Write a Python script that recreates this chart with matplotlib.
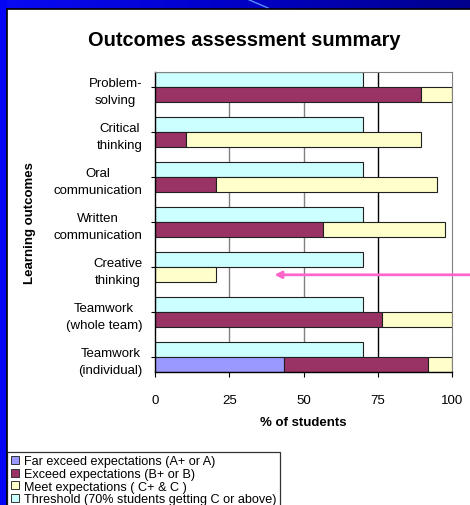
import numpy as np
import matplotlib
matplotlib.use("Agg")
import matplotlib.pyplot as plt
from matplotlib.lines import Line2D
from matplotlib.patches import Rectangle

plt.rcParams['font.family'] = ['Liberation Sans', 'DejaVu Sans']

# outcome categories, top to bottom
outcomes = ['Problem-\nsolving', 'Critical\nthinking', 'Oral\ncommunication',
            'Written\ncommunication', 'Creative\nthinking', 'Teamwork\n(whole team)',
            'Teamwork\n(individual)']

# % of students in each grade band
far_exceed = [0, 0, 0, 0, 0, 0, 43.5]
exceed = [89.5, 10.5, 20.5, 56.5, 0, 76.5, 48.5]
meet = [10.5, 79, 74.5, 41, 20.5, 23.5, 8]
threshold = [70, 70, 70, 70, 70, 70, 70]

x_ticks = [0, 25, 50, 75, 100]

labels = ['Far exceed expectations (A+ or A)', 'Exceed expectations (B+ or B)',
          'Meet expectations ( C+ & C )', 'Threshold (70% students getting C or above)']
colors = ['#9999FF', '#993366', '#FFFFCC', '#CCFFFF']

W, H = 470, 506
fig = plt.figure(figsize=(W / 100, H / 100), dpi=100)
fig.patch.set_facecolor('white')

# slide frame: blue bands on top and left
bg = fig.add_axes([0, 0, 1, 1], zorder=-10)
bg.set_xlim(0, W)
bg.set_ylim(H, 0)
bg.axis('off')
grad = np.linspace(0, 1, 256).reshape(1, -1)
cmap = matplotlib.colors.LinearSegmentedColormap.from_list('band', ['#0A0AF5', '#0000C8', '#00008C'])
bg.imshow(grad, cmap=cmap, extent=[0, W, 9.5, 0], aspect='auto')
bg.plot([247, 268], [0, 9], color='#5A8CFF', lw=1)
bg.add_patch(Rectangle((0, 0), 6.5, H, color='#0505F5', lw=0))
bg.plot([6.5, W], [9.8, 9.8], color='black', lw=1.2)
bg.plot([6.8, 6.8], [9.5, H], color='black', lw=1.2)

ax = fig.add_axes([155 / W, 1 - 373.3 / H, 297 / W, 300 / H])

n = len(outcomes)
pos = np.arange(n) * 3
y_thr = pos + 0.5
y_stk = pos + 1.5

for v in [25, 50]:
    ax.axvline(v, color='#808080', lw=1, zorder=0)
ax.axvline(75, color='black', lw=1, zorder=0)

ax.barh(y_thr, threshold, height=1, color=colors[3], edgecolor='#202020', lw=0.8, zorder=2)
left = np.zeros(n)
for vals, c in zip([far_exceed, exceed, meet], colors[:3]):
    vals = np.array(vals)
    ax.barh(y_stk, vals, height=1, left=left, color=c, edgecolor='#202020', lw=0.8, zorder=2)
    left += vals

ax.set_xlim(0, 100)
ax.set_ylim(20, 0)
ax.set_xticks(x_ticks)
ax.set_yticks(pos + 1)
ax.set_yticklabels(outcomes, linespacing=1.55)
for t in ax.get_yticklabels():
    t.set_multialignment('center')
ax.tick_params(axis='y', length=3, width=0.8, pad=6, labelsize=9.5)
ax.tick_params(axis='x', length=3.5, width=0.8, pad=12, labelsize=9.5)
for s in ['top', 'right']:
    ax.spines[s].set_color('#808080')
for s in ['left', 'bottom']:
    ax.spines[s].set_color('black')
    ax.spines[s].set_linewidth(1)

ax.set_xlabel('% of students', fontsize=9.5, fontweight='bold', labelpad=7)
fig.text(30 / W, 1 - 223 / H, 'Learning outcomes', rotation=90, fontsize=9.5,
         fontweight='bold', ha='center', va='center')
fig.text(244 / W, 1 - 46.5 / H, 'Outcomes assessment summary', fontsize=14.4,
         fontweight='bold', ha='center', va='baseline')

# arrow pointing at the empty creative thinking row
ax.annotate('', xy=(40.2, 13.5), xycoords='data', xytext=(1.0, 13.5),
            textcoords=('figure fraction', 'data'),
            arrowprops=dict(arrowstyle='-|>', color='#FF66CC', lw=2,
                            mutation_scale=10, shrinkA=0, shrinkB=0),
            annotation_clip=False)

handles = [Line2D([], [], ls='none', marker='s', markersize=5.5, markerfacecolor=c,
                  markeredgecolor='#333333', markeredgewidth=0.7) for c in colors]
leg = fig.legend(handles, labels, loc='upper left', bbox_to_anchor=(7 / W, 1 - 452.5 / H),
                 fontsize=9.1, frameon=True, fancybox=False, edgecolor='black',
                 handlelength=0.7, handletextpad=0.35, borderpad=0.3, labelspacing=0.05,
                 borderaxespad=0)
leg.get_frame().set_linewidth(0.9)

fig.savefig('out.png', dpi=100)
